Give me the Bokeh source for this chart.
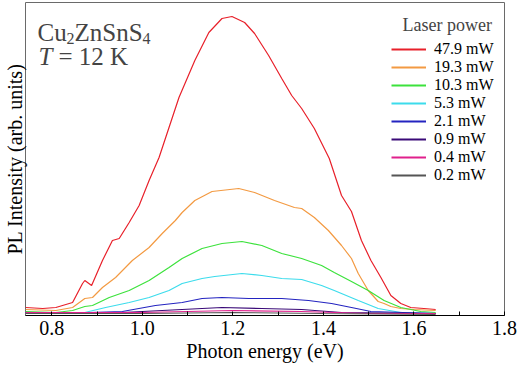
from bokeh.plotting import figure
from bokeh.models import Range1d, Label, Legend, LegendItem, FixedTicker, PrintfTickFormatter
from bokeh.embed import file_html
from bokeh.resources import INLINE

# ---- data (intensity in arb. units) ----
e_479 = [0.742, 0.780, 0.809, 0.846, 0.868, 0.873, 0.888, 0.912, 0.934, 0.949, 0.971, 0.993,
         1.015, 1.037, 1.081, 1.116, 1.147, 1.176, 1.198, 1.226, 1.248, 1.279, 1.308, 1.330,
         1.352, 1.380, 1.413, 1.440, 1.462, 1.484, 1.505, 1.527, 1.549, 1.571, 1.593, 1.622, 1.648]
i_479 = [8, 7, 8, 13, 32, 35, 30, 55, 75, 77, 93, 110,
         135, 158, 218, 255, 283, 297, 299, 293, 282, 260, 237, 220,
         207, 187, 157, 120, 104, 75, 55, 38, 20, 12, 8, 7, 6]

e_193 = [0.742, 0.809, 0.846, 0.873, 0.890, 0.912, 0.941, 0.978, 1.015, 1.044, 1.073, 1.088,
         1.116, 1.154, 1.213, 1.248, 1.292, 1.336, 1.352, 1.380, 1.411, 1.440, 1.462, 1.477,
         1.499, 1.521, 1.534, 1.549, 1.571, 1.600, 1.648]
i_193 = [6, 5, 8, 17, 18, 28, 38, 55, 68, 82, 95, 103,
         115, 124, 127, 123, 115, 108, 107, 98, 85, 70, 57, 42,
         25, 14, 12, 9, 7, 6, 5]

e_103 = [0.742, 0.809, 0.846, 0.873, 0.890, 0.927, 0.971, 1.015, 1.059, 1.088, 1.132, 1.176,
         1.220, 1.264, 1.308, 1.352, 1.396, 1.424, 1.462, 1.499, 1.534, 1.571, 1.615, 1.648]
i_103 = [4, 3, 5, 9, 10, 18, 25, 35, 48, 57, 67, 72,
         74, 70, 62, 57, 50, 43, 34, 25, 15, 8, 4, 3]

e_53 = [0.742, 0.846, 0.873, 0.919, 0.971, 1.015, 1.059, 1.088, 1.132, 1.160, 1.220, 1.264,
        1.308, 1.352, 1.396, 1.424, 1.477, 1.521, 1.571, 1.648]
i_53 = [3, 2, 3, 8, 13, 18, 25, 32, 37, 39, 42, 40,
        37, 36, 30, 25, 15, 7, 3, 2]

e_21 = [0.742, 0.884, 0.956, 1.029, 1.088, 1.132, 1.176, 1.235, 1.308, 1.367, 1.418, 1.462, 1.505, 1.648]
i_21 = [3, 3, 4, 10, 13, 17, 18, 17, 17, 15, 12, 8, 4, 2]

e_09 = [0.742, 0.956, 1.088, 1.176, 1.264, 1.352, 1.440, 1.648]
i_09 = [3, 3, 6, 8, 7, 6, 3, 2]

e_04 = [0.742, 1.000, 1.100, 1.200, 1.350, 1.500, 1.648]
i_04 = [3, 3, 4, 5, 4, 2, 2]

e_02 = [0.742, 1.000, 1.200, 1.400, 1.648]
i_02 = [2, 2, 3, 2, 1]

labels = ["47.9 mW", "19.3 mW", "10.3 mW", "5.3 mW", "2.1 mW", "0.9 mW", "0.4 mW", "0.2 mW"]
energies = [e_479, e_193, e_103, e_53, e_21, e_09, e_04, e_02]
intens = [i_479, i_193, i_103, i_53, i_21, i_09, i_04, i_02]
colors = ["#e8202a", "#f39a42", "#3ce23c", "#3cdcec", "#2424c0", "#3a0a78", "#e0208c", "#555555"]

x_ticks = [0.8, 1.0, 1.2, 1.4, 1.6, 1.8]
x_minor = [0.9, 1.1, 1.3, 1.5, 1.7]

FONT = "Liberation Serif"

p = figure(width=518, height=367, output_backend="svg", toolbar_location=None,
           x_range=Range1d(0.742, 1.8), y_range=Range1d(0, 313),
           min_border_left=20, min_border_right=14, min_border_top=2, min_border_bottom=52)
p.background_fill_color = "white"
p.border_fill_color = "white"
p.outline_line_color = "#6a6a6a"
p.outline_line_width = 1
p.xgrid.visible = False
p.ygrid.visible = False

# x axis
xa = p.xaxis[0]
xa.ticker = FixedTicker(ticks=x_ticks, minor_ticks=x_minor)
xa.formatter = PrintfTickFormatter(format="%.1f")
xa.major_tick_in = 4
xa.major_tick_out = 0
xa.minor_tick_in = 4
xa.minor_tick_out = 0
xa.axis_line_color = "black"
xa.major_tick_line_color = "black"
xa.minor_tick_line_color = "black"
xa.major_label_text_font = FONT
xa.major_label_text_font_size = "20px"
xa.major_label_text_color = "black"
xa.major_label_standoff = 5
xa.axis_label = "Photon energy (eV)"
xa.axis_label_text_font = FONT
xa.axis_label_text_font_size = "20px"
xa.axis_label_text_font_style = "normal"
xa.axis_label_text_color = "black"
xa.axis_label_standoff = 2

# y axis: title only, no ticks
ya = p.yaxis[0]
ya.ticker = FixedTicker(ticks=[])
ya.major_label_text_font_size = "0px"
ya.major_label_standoff = 0
ya.major_tick_in = 0
ya.major_tick_out = 0
ya.minor_tick_in = 0
ya.minor_tick_out = 0
ya.major_tick_line_color = None
ya.minor_tick_line_color = None
ya.axis_line_color = None
ya.axis_label = "PL Intensity (arb. units)"
ya.axis_label_text_font = FONT
ya.axis_label_text_font_size = "20px"
ya.axis_label_text_font_style = "normal"
ya.axis_label_text_color = "black"
ya.axis_label_standoff = 0

p.multi_line(xs=energies, ys=intens, line_color=colors, line_width=1.2)

# legend keys (drawn only in the legend, slightly thicker so the colours read)
items = []
for lab, col in zip(labels, colors):
    key = p.line([float("nan")], [float("nan")], line_color=col, line_width=2)
    items.append(LegendItem(label=lab, renderers=[key]))

legend = Legend(items=items, location=(366, 131), orientation="vertical",
                padding=0, margin=0, spacing=0, glyph_width=35, glyph_height=18,
                label_height=18, label_standoff=8, label_text_font=FONT,
                label_text_font_size="16px", label_text_color="black",
                border_line_alpha=0, background_fill_alpha=0)
p.add_layout(legend)

p.add_layout(Label(x=377, y=291, x_units="screen", y_units="screen", text="Laser power",
                   text_font=FONT, text_font_size="18px", text_baseline="alphabetic"))

# sample annotation
p.add_layout(Label(x=12, y=283, x_units="screen", y_units="screen", text="Cu",
                   text_font=FONT, text_font_size="25px", text_baseline="alphabetic"))
p.add_layout(Label(x=41, y=277, x_units="screen", y_units="screen", text="2",
                   text_font=FONT, text_font_size="16px", text_baseline="alphabetic"))
p.add_layout(Label(x=49, y=283, x_units="screen", y_units="screen", text="ZnSnS",
                   text_font=FONT, text_font_size="25px", text_baseline="alphabetic"))
p.add_layout(Label(x=117, y=277, x_units="screen", y_units="screen", text="4",
                   text_font=FONT, text_font_size="16px", text_baseline="alphabetic"))
p.add_layout(Label(x=13, y=259, x_units="screen", y_units="screen", text="T",
                   text_font=FONT, text_font_size="25px", text_font_style="italic",
                   text_baseline="alphabetic"))
p.add_layout(Label(x=33, y=259, x_units="screen", y_units="screen", text="= 12 K",
                   text_font=FONT, text_font_size="25px", text_baseline="alphabetic"))

open("out.html", "w").write(file_html(p, INLINE))
